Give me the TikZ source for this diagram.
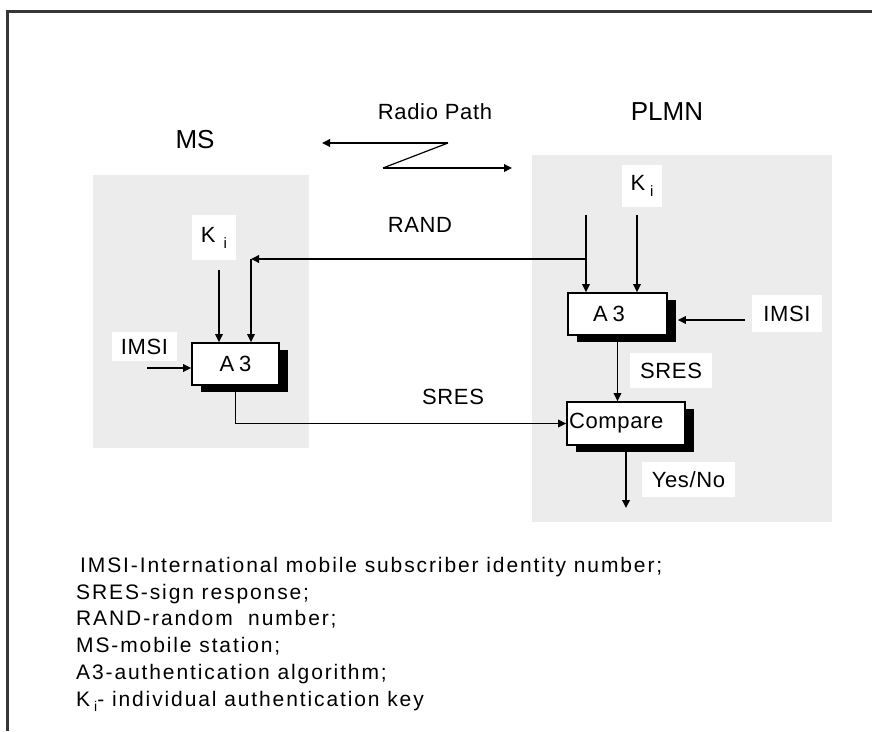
\documentclass[tikz,border=0pt]{standalone}
\usepackage{fontspec}
\setmainfont{Liberation Sans}
\usetikzlibrary{arrows.meta,shadows}
\definecolor{boxgray}{RGB}{236,236,236}
\definecolor{framegray}{RGB}{55,55,55}
\newcommand{\kisub}[1]{K\hspace{#1}\raisebox{-6pt}{\fontsize{15}{15}\selectfont i}}
\begin{document}
\begin{tikzpicture}[x=1pt,y=-1pt,
  area/.style={fill=boxgray, draw=none, inner sep=0},
  title/.style={inner sep=0, font=\fontsize{26}{26}\selectfont},
  lbl/.style={inner sep=0, font=\fontsize{22}{22}\selectfont\addfontfeatures{LetterSpace=3}},
  wbox/.style={lbl, fill=white},
  proc/.style={lbl, draw=black, fill=white, line width=1.7pt,
    general shadow={fill=black, shadow xshift=9pt, shadow yshift=-7pt}},
  conn/.style={line width=1.8pt},
  arr/.style={conn, -{Triangle[length=8pt,width=7.5pt]}},
  frameline/.style={draw=framegray, line width=3pt},
  legend/.style={anchor=base west, inner sep=0, font=\fontsize{21}{21}\selectfont\addfontfeatures{LetterSpace=9}}
]
\useasboundingbox (0,0) rectangle (872,731);
\fill[white] (0,0) rectangle (872,731);

% frame
\coordinate (ftl) at (7,11);
\coordinate (ftr) at (872,11);
\coordinate (fbl) at (7,731);
\draw[frameline] (fbl) -- (ftl) -- (ftr);

% gray areas
\node[area, minimum width=216pt, minimum height=273pt] (msarea) at (201,311.5) {};
\node[area, minimum width=300pt, minimum height=367pt] (plarea) at (682,338.5) {};

% titles and labels
\node[title] (mslbl) at (195,140) {MS};
\node[title] (pllbl) at (667,112) {PLMN};
\node[lbl] (radio) at (435,112) {Radio Path};
\node[lbl] (rand) at (420,225) {RAND};
\node[lbl] (sresms) at (453,397) {SRES};

% MS side
\node[wbox, minimum width=44pt, minimum height=45pt] (kims) at (214,237.5) {\kisub{8pt}};
\node[wbox, minimum width=65pt, minimum height=29pt] (imsims) at (144.5,346.5) {IMSI};
\node[proc, minimum width=87pt, minimum height=42pt] (a3ms) at (235.5,364) {A\hspace{5pt}3};

% PLMN side
\node[wbox, minimum width=40pt, minimum height=42pt] (kipl) at (642,186) {\kisub{5pt}};
\node[proc, minimum width=99pt, minimum height=42pt] (a3pl) at (617.5,314) {\hspace*{-17pt}A\hspace{5pt}3};
\node[wbox, minimum width=70pt, minimum height=37pt] (imsipl) at (787,313.5) {IMSI};
\node[wbox, minimum width=82pt, minimum height=35pt] (srespl) at (671,370.5) {SRES};
\node[proc, minimum width=118pt, minimum height=43pt, text width=114pt, align=left] (cmp) at (626,423.5) {Compare};
\node[wbox, minimum width=93pt, minimum height=35pt] (yesno) at (688.5,479.5) {Yes/No};

% radio path
\coordinate (rtop) at (448,143);
\coordinate (rtopend) at (322,143);
\coordinate (rbot) at (383,168);
\coordinate (rbotend) at (512,168);
\draw[arr] (rtop) -- (rtopend);
\draw[line width=1.2pt] (rtop) -- (rbot);
\draw[arr] (rbot) -- (rbotend);

% MS connectors
\coordinate (kimsstart) at (219,270);
\draw[arr] (kimsstart) -- (kimsstart |- a3ms.north);
\coordinate (randturn) at (251,259);
\coordinate (randsrc) at (586,259);
\draw[arr] (randsrc) -- (randturn);
\draw[arr] (randturn) -- (randturn |- a3ms.north);
\coordinate (imsimsstart) at (147,368);
\draw[arr] (imsimsstart) -- (imsimsstart -| a3ms.west);
\draw[arr] (a3ms.south) |- (cmp.west);

% PLMN connectors
\coordinate (randtop) at (586,215);
\draw[arr] (randtop) -- (randtop |- a3pl.north);
\coordinate (kiplstart) at (637,215);
\draw[arr] (kiplstart) -- (kiplstart |- a3pl.north);
\coordinate (imsiplstart) at (745,320);
\coordinate (a3plshadowE) at ([xshift=10pt]a3pl.east);
\draw[arr] (imsiplstart) -- (a3plshadowE |- imsiplstart);
\draw[arr] (a3pl.south) -- (a3pl.south |- cmp.north);
\coordinate (yesend) at (626,508);
\draw[arr] (cmp.south) -- (yesend);

% legend
\node[legend] (l1) at (80,572) {IMSI-International mobile subscriber identity number;};
\node[legend] (l2) at (76,599) {SRES-sign response;};
\node[legend] (l3) at (76,625) {RAND-random\ \ number;};
\node[legend] (l4) at (76,652) {MS-mobile station;};
\node[legend] (l5) at (76,679) {A3-authentication algorithm;};
\node[legend] (l6) at (76,706) {K\hspace{4pt}\raisebox{-5pt}{\fontsize{14}{14}\selectfont i}- individual authentication key};
\end{tikzpicture}
\end{document}
